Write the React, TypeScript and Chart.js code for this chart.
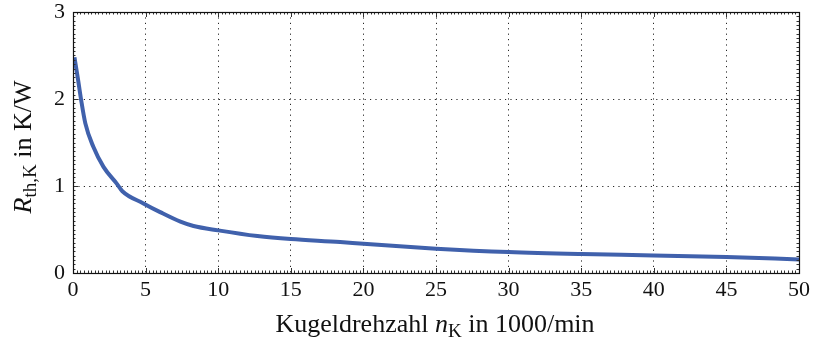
import React, { useEffect, useRef } from "react";
import { Chart, registerables } from "chart.js";

Chart.register(...registerables);

const speedK = [0.1, 0.35, 0.55, 0.85, 1.4, 2.1, 3.0, 3.4, 4.85, 6.0, 7.4, 8.3, 10, 12.7, 15, 18.4, 20, 25, 30, 35, 40, 45, 50];
const rthK = [2.48, 2.22, 2.0, 1.72, 1.45, 1.22, 1.03, 0.94, 0.8, 0.7, 0.59, 0.54, 0.49, 0.425, 0.39, 0.356, 0.335, 0.28, 0.24, 0.217, 0.202, 0.183, 0.156];
const xTicks = [0, 5, 10, 15, 20, 25, 30, 35, 40, 45, 50];
const yTicks = [0, 1, 2, 3];

const FONT = "'Liberation Serif', 'Times New Roman', serif";
const LINE_COLOR = "rgb(64, 97, 172)";

const framePlugin = {
  id: "frame",
  afterDraw(chart: any) {
    const { ctx, chartArea } = chart;
    const xs = chart.scales.x;
    const ys = chart.scales.y;
    const { left, right, top, bottom } = chartArea;
    ctx.save();
    ctx.strokeStyle = "#333";
    ctx.lineWidth = 1;
    ctx.beginPath();
    for (let i = 0; i <= 200; i++) {
      const v = i * 0.25;
      const px = Math.round(xs.getPixelForValue(v)) + 0.5;
      const major = i % 20 === 0;
      const len = major ? 5 : 2.5;
      ctx.moveTo(px, bottom);
      ctx.lineTo(px, bottom - len);
      ctx.moveTo(px, top);
      ctx.lineTo(px, top + len);
    }
    for (let i = 0; i <= 60; i++) {
      const v = i * 0.05;
      const py = Math.round(ys.getPixelForValue(v)) + 0.5;
      const major = i % 20 === 0;
      const len = major ? 5 : 2.5;
      ctx.moveTo(left, py);
      ctx.lineTo(left + len, py);
      ctx.moveTo(right, py);
      ctx.lineTo(right - len, py);
    }
    ctx.stroke();
    ctx.strokeStyle = "#111";
    ctx.lineWidth = 1.2;
    ctx.strokeRect(Math.round(left) + 0.5, Math.round(top) + 0.5, Math.round(right - left), Math.round(bottom - top));

    ctx.fillStyle = "#111";
    ctx.textBaseline = "alphabetic";
    const main = `26px ${FONT}`;
    const mainIt = `italic 26px ${FONT}`;
    const sub = `19px ${FONT}`;
    const drawParts = (parts: { t: string; f: string; dy: number }[], cx: number, cy: number, rot: boolean) => {
      let total = 0;
      for (const p of parts) {
        ctx.font = p.f;
        total += ctx.measureText(p.t).width;
      }
      ctx.save();
      ctx.translate(cx, cy);
      if (rot) ctx.rotate(-Math.PI / 2);
      let x = -total / 2;
      ctx.textAlign = "left";
      for (const p of parts) {
        ctx.font = p.f;
        ctx.fillText(p.t, x, p.dy);
        x += ctx.measureText(p.t).width;
      }
      ctx.restore();
    };
    drawParts(
      [
        { t: "Kugeldrehzahl ", f: main, dy: 0 },
        { t: "n", f: mainIt, dy: 0 },
        { t: "K", f: sub, dy: 5 },
        { t: " in 1000/min", f: main, dy: 0 },
      ],
      435,
      332,
      false
    );
    drawParts(
      [
        { t: "R", f: mainIt, dy: 0 },
        { t: "th,K", f: sub, dy: 5 },
        { t: " in K/W", f: main, dy: 0 },
      ],
      31,
      147,
      true
    );
    ctx.restore();
  },
};

export default function App() {
  const ref = useRef<HTMLCanvasElement | null>(null);
  useEffect(() => {
    if (!ref.current) return;
    const chart = new Chart(ref.current, {
      type: "line",
      data: {
        datasets: [
          {
            data: speedK.map((x, i) => ({ x, y: rthK[i] })),
            borderColor: LINE_COLOR,
            borderWidth: 4,
            pointRadius: 0,
            cubicInterpolationMode: "monotone",
            fill: false,
          },
        ],
      },
      options: {
        animation: false,
        responsive: true,
        maintainAspectRatio: false,
        layout: { padding: { top: 12, right: 14, left: 0, bottom: 0 } },
        plugins: { legend: { display: false }, tooltip: { enabled: false } },
        scales: {
          x: {
            type: "linear",
            min: 0,
            max: 50,
            afterBuildTicks: (s: any) => {
              s.ticks = xTicks.map((v) => ({ value: v }));
            },
            afterFit: (s: any) => {
              s.height = 67;
              s.paddingLeft = 0;
              s.paddingRight = 0;
            },
            ticks: {
              color: "#111",
              font: { family: FONT, size: 22 },
              padding: 4,
              maxRotation: 0,
              autoSkip: false,
            },
            grid: { color: "rgba(0,0,0,0.85)", lineWidth: 1, drawTicks: false },
            border: { display: false, dash: [1.2, 4.2] },
          },
          y: {
            type: "linear",
            min: 0,
            max: 3,
            afterBuildTicks: (s: any) => {
              s.ticks = yTicks.map((v) => ({ value: v }));
            },
            afterFit: (s: any) => {
              s.width = 73;
              s.paddingTop = 0;
              s.paddingBottom = 0;
            },
            ticks: {
              color: "#111",
              font: { family: FONT, size: 22 },
              padding: 8,
              autoSkip: false,
            },
            grid: { color: "rgba(0,0,0,0.85)", lineWidth: 1, drawTicks: false },
            border: { display: false, dash: [1.2, 4.2] },
          },
        },
      },
      plugins: [framePlugin],
    });
    return () => chart.destroy();
  }, []);
  return (
    <div style={{ position: "absolute", left: 0, top: 0, width: 813, height: 340, background: "#fff" }}>
      <canvas ref={ref} />
    </div>
  );
}
